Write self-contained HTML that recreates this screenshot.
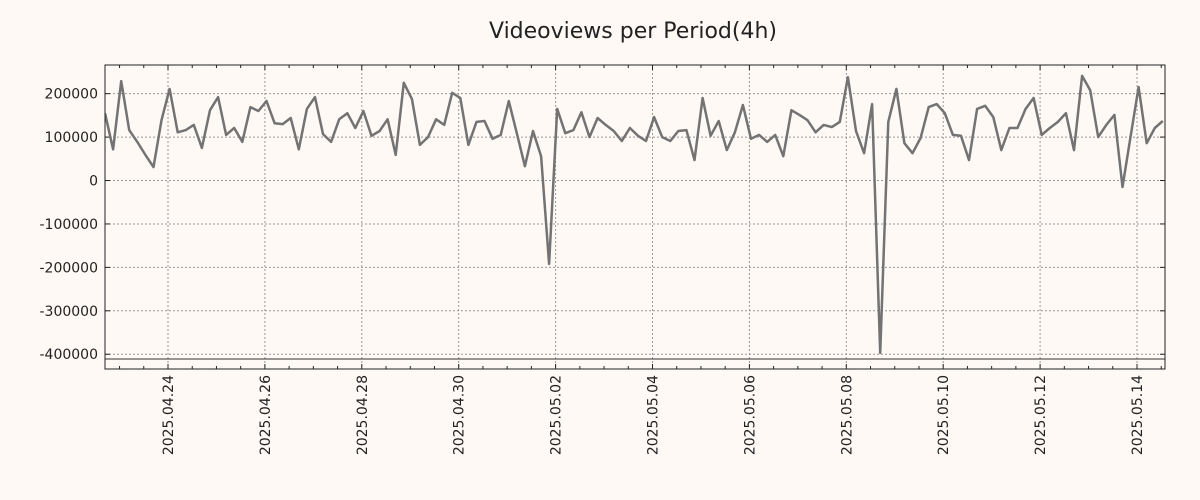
<!DOCTYPE html>
<html><head><meta charset="utf-8"><style>
body{margin:0;background:#fef9f5;}
svg{display:block;font-family:"DejaVu Sans","Liberation Sans",sans-serif;}
</style></head><body>
<svg id="chart" width="1200" height="500"></svg>
<script>
const values=[155,72,229,116,89,59,31,139,211,111,116,128,75,162,192,105,121,89,169,160,183,132,130,144,72,165,192,107,89,141,155,121,160,103,114,141,59,225,188,82,100,141,128,202,190,82,135,137,96,105,183,109,33,114,56,-192,165,109,116,157,100,144,128,114,91,121,103,91,146,100,91,114,116,47,190,103,137,70,111,174,96,105,89,105,56,162,151,139,111,128,123,135,238,114,63,176,-397,135,211,86,63,98,169,176,155,105,103,47,165,172,146,70,121,121,165,190,105,121,135,155,70,241,208,100,128,151,-15,100,215,86,121,137].map(v=>v*1000);
const xTickLabels=["2025.04.24","2025.04.26","2025.04.28","2025.04.30","2025.05.02","2025.05.04","2025.05.06","2025.05.08","2025.05.10","2025.05.12","2025.05.14"];
const yTickValues=[200000,100000,0,-100000,-200000,-300000,-400000];
const refLine=[-411000];
const NS="http://www.w3.org/2000/svg";
const svg=document.getElementById('chart');
const L=105,R=1165,T=65,B=369;
const dayPx=48.45, day0X=168, t0=-1.3;
const xDays=d=>day0X+d*dayPx;
const yMax=266000,yMin=-434000;
const y=v=>T+(yMax-v)/(yMax-yMin)*(B-T);
function mk(tag,attrs){const e=document.createElementNS(NS,tag);for(const k in attrs)e.setAttribute(k,attrs[k]);svg.appendChild(e);return e;}
const bg=mk('rect',{x:L,y:T,width:R-L,height:B-T,fill:'#fef9f5'});


// grid & y ticks
yTickValues.forEach(v=>{
 const g=mk('line',{x1:L,x2:R,y1:y(v),y2:y(v),stroke:'#999',"stroke-dasharray":'2,2',"stroke-width":1});
 
 
 mk('line',{x1:L,x2:L+5,y1:y(v),y2:y(v),stroke:'#222'});
 mk('line',{x1:R-5,x2:R,y1:y(v),y2:y(v),stroke:'#222'});
 const t=mk('text',{x:L-7,y:y(v)+5,"text-anchor":'end',"font-size":14,fill:'#222'});
 t.textContent=String(v);
 
 
});
// x ticks
xTickLabels.forEach((lab,i)=>{
 const x=xDays(i*2);
 const g=mk('line',{x1:x,x2:x,y1:T,y2:B,stroke:'#999',"stroke-dasharray":'2,2',"stroke-width":1});
 
 
 const t=mk('text',{transform:`translate(${x+5},${B+6}) rotate(-90)`,"text-anchor":'end',"font-size":14,fill:'#222'});
 t.textContent=lab;
 
 
});
for(let d=-1;d<=20.5;d+=0.5){const x=xDays(d);if(x<L||x>R)continue;const big=Number.isInteger(d/2);
 mk('line',{x1:x,x2:x,y1:B,y2:B-(big?5:3),stroke:'#222'});mk('line',{x1:x,x2:x,y1:T,y2:T+(big?5:3),stroke:'#222'});}
// ref line
refLine.forEach(v=>{const l=mk('line',{x1:L,x2:R,y1:y(v),y2:y(v),stroke:'#333',"stroke-width":1});
 
 });
// series
const clip=mk('clipPath',{id:'c'});const cr=document.createElementNS(NS,'rect');
cr.setAttribute('x',L);cr.setAttribute('y',T);cr.setAttribute('width',R-L);cr.setAttribute('height',B-T);clip.appendChild(cr);
const pts=values.map((v,i)=>xDays(t0+i/6).toFixed(1)+','+y(v).toFixed(1)).join(' ');
const pl=mk('polyline',{points:pts,fill:'none',stroke:'#737373',"stroke-width":2.5,"stroke-linejoin":'round',"clip-path":'url(#c)'});


const fr=mk('rect',{x:L,y:T,width:R-L,height:B-T,fill:'none',stroke:'#222',"stroke-width":1});


const title=mk('text',{x:633,y:38,"text-anchor":'middle',"font-size":22,fill:'#222'});
title.textContent='Videoviews per Period(4h)';


</script>
</body></html>
